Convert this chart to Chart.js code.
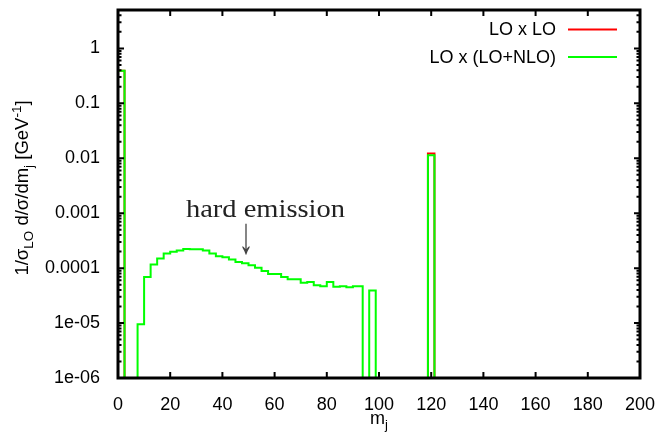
<!DOCTYPE html>
<html><head><meta charset="utf-8">
<script src="https://cdn.jsdelivr.net/npm/chart.js@4.4.0/dist/chart.umd.min.js"></script>
<style>html,body{margin:0;padding:0;background:#fff;} #wrap{width:660px;height:435px;position:relative;}</style>
</head><body><div id="wrap"><canvas id="c" width="660" height="435"></canvas></div>
<script>
// ---- data ----
const binEdges = [0,2.5,5,7.5,10,12.5,15,17.5,20,22.5,25,27.5,30,32.5,35,37.5,40,42.5,45,47.5,
  50,52.5,55,57.5,60,62.5,65,67.5,70,72.5,75,77.5,80,82.5,85,87.5,90,92.5,93.75,96.25,98.75,118.75,121.25,200];
const loxLoNlo = [0.39,0,0,9.5e-6,6.9e-5,1.17e-4,1.5e-4,1.85e-4,1.98e-4,2.1e-4,2.24e-4,2.2e-4,2.2e-4,2.1e-4,
  1.85e-4,1.64e-4,1.57e-4,1.44e-4,1.29e-4,1.23e-4,1.13e-4,1.02e-4,8.9e-5,7.8e-5,7.8e-5,6.9e-5,6.3e-5,6.3e-5,
  5.4e-5,5.6e-5,4.9e-5,4.7e-5,5.6e-5,4.6e-5,4.7e-5,4.5e-5,4.7e-5,4.7e-5,0,3.9e-5,0,0.0113,0];
const loxLo = [0.39,0,0,0,0,0,0,0,0,0,0,0,0,0,0,0,0,0,0,0,0,0,0,0,0,0,0,0,0,0,0,0,0,0,0,0,0,0,0,0,0,0.0122,0];
const seriesNames = ['LO x LO', 'LO x (LO+NLO)'];
const seriesColors = ['#ff0000', '#00ff00'];
const xTicks = [0,20,40,60,80,100,120,140,160,180,200];
const yTicks = [1e-6,1e-5,1e-4,1e-3,1e-2,1e-1,1];
const yTickLabels = ['1e-06','1e-05','0.0001','0.001','0.01','0.1','1'];
const yMin = 1e-6, yMax = 5;
const annotationText = 'hard emission';
const annotationPos = {x: 56.5, y: 8.5e-4};
const arrowPos = {x: 49, y: 1.1e-4};

const EMPTY = 1e-9; // empty bin (below axis range)
function steps(vals){
  // point at the left edge of each bin with that bin's value, plus the closing right edge
  const pts = [];
  for (let i = 0; i < vals.length; i++) pts.push({x: binEdges[i], y: vals[i] > 0 ? vals[i] : EMPTY});
  pts.push({x: binEdges[vals.length], y: EMPTY});
  return pts;
}

const FONT = "'Liberation Sans', Arial, sans-serif";

function drawRich(ctx, parts, size, subSize){
  let x = 0;
  for (const p of parts){
    const s = p.sub || p.sup ? subSize : size;
    ctx.font = s + 'px ' + FONT;
    const dy = p.sub ? 5 : (p.sup ? -7 : 0);
    ctx.fillText(p.t, x, dy);
    x += ctx.measureText(p.t).width;
  }
  return x;
}
function richWidth(ctx, parts, size, subSize){
  let w = 0;
  for (const p of parts){
    ctx.font = (p.sub || p.sup ? subSize : size) + 'px ' + FONT;
    w += ctx.measureText(p.t).width;
  }
  return w;
}

const gnuplotFrame = {
  id: 'gnuplotFrame',
  afterDraw(chart){
    const ctx = chart.ctx, a = chart.chartArea;
    const xs = chart.scales.x, ys = chart.scales.y;
    ctx.save();
    // annotation
    ctx.fillStyle = '#222';
    ctx.font = "25px 'Liberation Serif', 'Times New Roman', serif";
    const tw = ctx.measureText(annotationText).width;
    const ax = xs.getPixelForValue(annotationPos.x), ay = ys.getPixelForValue(annotationPos.y);
    ctx.save();
    ctx.translate(ax, ay);
    ctx.scale(159 / tw, 1);
    ctx.textAlign = 'center'; ctx.textBaseline = 'alphabetic';
    ctx.fillText(annotationText, 0, 0);
    ctx.restore();
    ctx.save();
    ctx.fillStyle = '#444';
    ctx.font = "30px 'Liberation Serif', serif";
    ctx.textAlign = 'center'; ctx.textBaseline = 'bottom';
    ctx.translate(xs.getPixelForValue(arrowPos.x), ys.getPixelForValue(arrowPos.y));
    ctx.scale(1, 1.75);
    ctx.fillText('\u2193', 0, 0);
    ctx.restore();

    // ticks
    ctx.strokeStyle = '#000';
    ctx.lineWidth = 2;
    ctx.beginPath();
    for (const v of xTicks){
      const px = xs.getPixelForValue(v);
      if (px <= a.left + 2 || px >= a.right - 2) continue;
      ctx.moveTo(px, a.bottom); ctx.lineTo(px, a.bottom - 6);
      ctx.moveTo(px, a.top); ctx.lineTo(px, a.top + 6);
    }
    for (const v of yTicks){
      const py = ys.getPixelForValue(v);
      if (py >= a.bottom - 2 || py <= a.top + 2) continue;
      ctx.moveTo(a.left, py); ctx.lineTo(a.left + 6, py);
      ctx.moveTo(a.right, py); ctx.lineTo(a.right - 6, py);
    }
    for (let e = -6; e <= 0; e++){
      for (let k = 2; k <= 9; k++){
        const v = k * Math.pow(10, e);
        if (v >= yMax) continue;
        const py = ys.getPixelForValue(v);
        ctx.moveTo(a.left, py); ctx.lineTo(a.left + 3.5, py);
        ctx.moveTo(a.right, py); ctx.lineTo(a.right - 3.5, py);
      }
    }
    ctx.stroke();
    // border
    ctx.lineWidth = 3;
    ctx.strokeRect(a.left, a.top, a.right - a.left, a.bottom - a.top);

    // legend (gnuplot style)
    ctx.font = '18px ' + FONT;
    ctx.fillStyle = '#000';
    ctx.textAlign = 'right'; ctx.textBaseline = 'middle';
    const legY = [29.5, 57];
    [0, 1].forEach((si, i) => {
      ctx.fillText(seriesNames[si], 556, legY[i] + 1);
      ctx.strokeStyle = seriesColors[si];
      ctx.lineWidth = 2;
      ctx.beginPath(); ctx.moveTo(568, legY[i]); ctx.lineTo(617, legY[i]); ctx.stroke();
    });

    // axis titles
    ctx.fillStyle = '#000';
    ctx.textAlign = 'left'; ctx.textBaseline = 'alphabetic';
    const yParts = [{t:'1/\u03c3'},{t:'LO',sub:1},{t:' d/\u03c3/dm'},{t:'j',sub:1},{t:' [GeV'},{t:'-1',sup:1},{t:']'}];
    const yw = richWidth(ctx, yParts, 18.5, 13.5);
    ctx.save();
    ctx.translate(28, (a.top + a.bottom) / 2 - 6);
    ctx.rotate(-Math.PI / 2);
    ctx.translate(-yw / 2, 0);
    drawRich(ctx, yParts, 18.5, 13.5);
    ctx.restore();
    const xParts = [{t:'m'},{t:'j',sub:1}];
    const xw = richWidth(ctx, xParts, 18, 13);
    ctx.save();
    ctx.translate((a.left + a.right) / 2 - xw / 2, 424);
    drawRich(ctx, xParts, 18, 13);
    ctx.restore();
    ctx.restore();
  }
};

new Chart(document.getElementById('c'), {
  type: 'line',
  data: {
    datasets: [
      {label: seriesNames[1], data: steps(loxLoNlo), borderColor: seriesColors[1], borderWidth: 2, stepped: 'before', pointRadius: 0, fill: false},
      {label: seriesNames[0], data: steps(loxLo), borderColor: seriesColors[0], borderWidth: 2, stepped: 'before', pointRadius: 0, fill: false}
    ]
  },
  options: {
    responsive: false,
    animation: false,
    events: [],
    layout: {padding: {left: 0, right: 20, top: 10, bottom: 0}},
    plugins: {legend: {display: false}, tooltip: {enabled: false}, title: {display: false}},
    scales: {
      x: {
        type: 'linear', min: 0, max: 200,
        grid: {display: false}, border: {display: false},
        afterBuildTicks(s){ s.ticks = xTicks.map(v => ({value: v})); },
        ticks: {color: '#000', font: {family: FONT, size: 18}, padding: 8, maxRotation: 0, autoSkip: false,
                callback: v => String(v)},
        afterFit(s){ s.height = 57; s.paddingLeft = 0; s.paddingRight = 0; }
      },
      y: {
        type: 'logarithmic', min: yMin, max: yMax,
        grid: {display: false}, border: {display: false},
        afterBuildTicks(s){ s.ticks = yTicks.map(v => ({value: v, major: true})); },
        ticks: {color: '#000', font: {family: FONT, size: 18}, padding: 10, autoSkip: false,
                callback: v => { const i = yTicks.findIndex(t => Math.abs(t - v) / t < 1e-6); return i >= 0 ? yTickLabels[i] : ''; }},
        afterFit(s){ s.width = 118; s.paddingTop = 0; s.paddingBottom = 0; }
      }
    }
  },
  plugins: [gnuplotFrame]
});
</script>
</body></html>
